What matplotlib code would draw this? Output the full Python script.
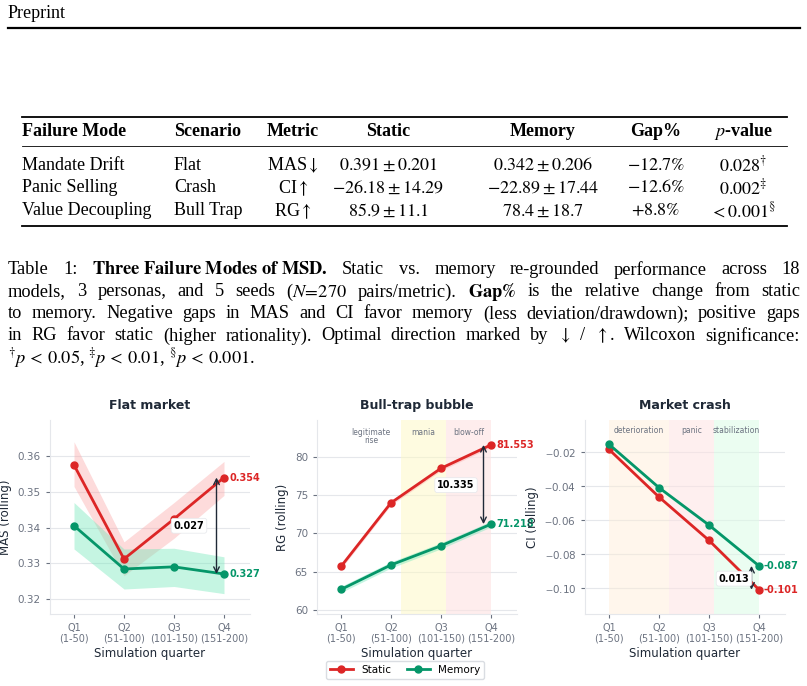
import matplotlib
matplotlib.use("Agg")
import matplotlib.pyplot as plt
import numpy as np

plt.rcParams['mathtext.fontset'] = 'stix'
SERIF = ['Liberation Serif', 'DejaVu Serif']

quarters = ["Q1\n(1-50)", "Q2\n(51-100)", "Q3\n(101-150)", "Q4\n(151-200)"]

flat_static = [0.3575, 0.3312, 0.3424, 0.354]
flat_static_lo = [0.3515, 0.3265, 0.3370, 0.3490]
flat_static_hi = [0.3640, 0.3360, 0.3470, 0.3585]
flat_memory = [0.3405, 0.3284, 0.3290, 0.327]
flat_memory_lo = [0.3340, 0.3228, 0.3235, 0.3215]
flat_memory_hi = [0.3470, 0.3340, 0.3342, 0.3318]

bull_static = [65.7, 74.0, 78.5, 81.553]
bull_static_lo = [65.4, 73.7, 78.2, 81.25]
bull_static_hi = [66.0, 74.3, 78.8, 81.85]
bull_memory = [62.7, 65.9, 68.4, 71.218]
bull_memory_lo = [62.3, 65.5, 68.0, 70.85]
bull_memory_hi = [63.1, 66.3, 68.8, 71.6]

crash_static = [-0.0185, -0.0465, -0.0720, -0.101]
crash_static_lo = [-0.0193, -0.0473, -0.0728, -0.1018]
crash_static_hi = [-0.0177, -0.0457, -0.0712, -0.1002]
crash_memory = [-0.0155, -0.0410, -0.0630, -0.087]
crash_memory_lo = [-0.0163, -0.0420, -0.0640, -0.0880]
crash_memory_hi = [-0.0147, -0.0400, -0.0620, -0.0860]

table_header = ["Failure Mode", "Scenario", "Metric", "Static", "Memory", "Gap%", "$p$-value"]
table_rows = [
    ["Mandate Drift", "Flat", r"MAS$\downarrow$", r"$0.391 \pm 0.201$", r"$0.342 \pm 0.206$", r"$-12.7\%$", r"$0.028^{\dagger}$"],
    ["Panic Selling", "Crash", r"CI$\uparrow$", r"$-26.18 \pm 14.29$", r"$-22.89 \pm 17.44$", r"$-12.6\%$", r"$0.002^{\ddagger}$"],
    ["Value Decoupling", "Bull Trap", r"RG$\uparrow$", r"$85.9 \pm 11.1$", r"$78.4 \pm 18.7$", r"$+8.8\%$", r"$< 0.001^{\S}$"],
]
caption_lines = [
    r"Table 1: $\mathbf{Three\ Failure\ Modes\ of\ MSD.}$ Static vs. memory re-grounded performance across 18",
    r"models, 3 personas, and 5 seeds ($N\!=\!270$ pairs/metric). $\mathbf{Gap\%}$ is the relative change from static",
    r"to memory. Negative gaps in MAS and CI favor memory (less deviation/drawdown); positive gaps",
    r"in RG favor static (higher rationality). Optimal direction marked by $\downarrow$ / $\uparrow$. Wilcoxon significance:",
    r"$^{\dagger}p\,<\,0.05$, $^{\ddagger}p\,<\,0.01$, $^{\S}p\,<\,0.001$.",
]

W, H = 807, 686
fig = plt.figure(figsize=(W/100, H/100), dpi=100)

def fx(x): return x / W
def fy(y): return 1 - y / H

fig.text(fx(8), fy(14), "Preprint", family=SERIF, fontsize=13, va='center', ha='left')
fig.add_artist(plt.Line2D([fx(8), fx(800)], [fy(28), fy(28)], color='black', lw=1.6))

for y, lw in [(117, 1.3), (146, 0.6), (226, 1.3)]:
    fig.add_artist(plt.Line2D([fx(22), fx(787)], [fy(y), fy(y)], color='black', lw=lw))
col_x = [22, 174, 293, 388, 543, 656, 743]
col_ha = ['left', 'left', 'center', 'center', 'center', 'center', 'center']
for j, h in enumerate(table_header):
    fig.text(fx(col_x[j]), fy(131), h, family=SERIF, fontsize=13, fontweight='bold', ha=col_ha[j], va='center')
for i, row in enumerate(table_rows):
    yy = [165, 188, 211][i]
    for j, c in enumerate(row):
        fig.text(fx(col_x[j]), fy(yy), c, family=SERIF, fontsize=13, ha=col_ha[j], va='center')

# justified caption
def tokens(line):
    out, cur, inmath = [], "", False
    for ch in line:
        if ch == '$':
            inmath = not inmath
        if ch == ' ' and not inmath:
            if cur:
                out.append(cur)
            cur = ""
        else:
            cur += ch
    if cur:
        out.append(cur)
    return out

renderer = fig.canvas.get_renderer()
CAP_FS = 13.2
for i, line in enumerate(caption_lines):
    yy = fy(270 + 22 * i)
    words = tokens(line)
    arts = [fig.text(0, yy, w, family=SERIF, fontsize=CAP_FS, ha='left', va='center') for w in words]
    widths = [a.get_window_extent(renderer).width for a in arts]
    space = 3.6
    if i < len(caption_lines) - 1 and len(words) > 1:
        space = (792 - sum(widths)) / (len(words) - 1)
    xpos = 8
    for a, w in zip(arts, widths):
        a.set_x(fx(xpos))
        xpos += w + space

RED = '#dc2626'
GREEN = '#059669'
x = np.arange(4)

def style(ax, ylabel, title):
    ax.set_xlim(-0.48, 3.52)
    ax.set_xticks(x)
    ax.set_xticklabels(quarters, fontsize=7, color='#6b7280', linespacing=1.1)
    ax.tick_params(axis='y', labelsize=7.5, colors='#6b7280', length=3)
    ax.tick_params(axis='x', length=3, colors='#6b7280')
    for s in ['top', 'right']:
        ax.spines[s].set_visible(False)
    for s in ['left', 'bottom']:
        ax.spines[s].set_color('#e5e7eb')
    ax.grid(axis='y', color='#e5e7eb', lw=0.8)
    ax.set_axisbelow(True)
    ax.set_ylabel(ylabel, fontsize=8.5, color='#1f2937')
    ax.set_xlabel("Simulation quarter", fontsize=8.5, color='#1f2937', labelpad=2)
    ax.set_title(title, fontsize=9, fontweight='bold', color='#1f2937', pad=8)

def plot_series(ax, s, slo, shi, m, mlo, mhi, fmt):
    ax.fill_between(x, slo, shi, color='#fca5a5', alpha=0.4, lw=0)
    ax.fill_between(x, mlo, mhi, color='#6ee7b7', alpha=0.4, lw=0)
    ax.plot(x, s, color=RED, lw=2, marker='o', ms=5, label='Static')
    ax.plot(x, m, color=GREEN, lw=2, marker='o', ms=5, label='Memory')
    ax.text(3.1, s[-1], fmt.format(s[-1]), color=RED, fontsize=7, fontweight='bold', va='center')
    ax.text(3.1, m[-1], fmt.format(m[-1]), color=GREEN, fontsize=7, fontweight='bold', va='center')

def gap(ax, xa, lo, hi, xt, yt, txt):
    ax.annotate('', xy=(xa, hi), xytext=(xa, lo),
                arrowprops=dict(arrowstyle='<->', color='#1f2937', lw=1, shrinkA=0, shrinkB=0))
    ax.text(xt, yt, txt, fontsize=7, fontweight='bold', ha='center', va='center',
            bbox=dict(boxstyle='round,pad=0.25', fc='white', ec='#e5e7eb', lw=0.5))

ax1 = fig.add_axes([fx(50), fy(614), fx(200), (614 - 420) / H])
plot_series(ax1, flat_static, flat_static_lo, flat_static_hi, flat_memory, flat_memory_lo, flat_memory_hi, "{:.3f}")
ax1.set_ylim(0.3158, 0.3701)
ax1.set_yticks([0.32, 0.33, 0.34, 0.35, 0.36])
style(ax1, "MAS (rolling)", "Flat market")
gap(ax1, 2.85, flat_memory[-1], flat_static[-1], 2.3, 0.3405, "0.027")

ax2 = fig.add_axes([fx(317), fy(614), fx(200), (614 - 420) / H])
ax2.axvspan(1.2, 2.1, color='#fef9c3', alpha=0.5, lw=0)
ax2.axvspan(2.1, 3.0, color='#fee2e2', alpha=0.6, lw=0)
plot_series(ax2, bull_static, bull_static_lo, bull_static_hi, bull_memory, bull_memory_lo, bull_memory_hi, "{:.3f}")
ax2.set_ylim(59.5, 84.8)
ax2.set_yticks([60, 65, 70, 75, 80])
style(ax2, "RG (rolling)", "Bull-trap bubble")
for xc, t in [(0.6, "legitimate\nrise"), (1.65, "mania"), (2.55, "blow-off")]:
    ax2.text(xc, 83.8, t, fontsize=5.5, color='#6b7280', ha='center', va='top', linespacing=0.9)
gap(ax2, 2.85, bull_memory[-1], bull_static[-1], 2.3, 76.3, "10.335")

ax3 = fig.add_axes([fx(585), fy(614), fx(200), (614 - 420) / H])
ax3.axvspan(0, 1.2, color='#ffedd5', alpha=0.45, lw=0)
ax3.axvspan(1.2, 2.1, color='#fee2e2', alpha=0.55, lw=0)
ax3.axvspan(2.1, 3.0, color='#dcfce7', alpha=0.55, lw=0)
plot_series(ax3, crash_static, crash_static_lo, crash_static_hi, crash_memory, crash_memory_lo, crash_memory_hi, "{:.3f}")
ax3.set_ylim(-0.1153, -0.0012)
ax3.set_yticks([-0.10, -0.08, -0.06, -0.04, -0.02])
ax3.set_yticklabels([r"$-$0.10", r"$-$0.08", r"$-$0.06", r"$-$0.04", r"$-$0.02"])
style(ax3, "CI (rolling)", "Market crash")
for xc, t in [(0.6, "deterioration"), (1.65, "panic"), (2.55, "stabilization")]:
    ax3.text(xc, -0.0075, t, fontsize=5.5, color='#6b7280', ha='center', va='center')
gap(ax3, 2.85, crash_static[-1], crash_memory[-1], 2.5, -0.0945, "0.013")

h, l = ax1.get_legend_handles_labels()
fig.legend(h, l, loc='center', bbox_to_anchor=(fx(405), fy(670)), ncol=2, fontsize=7.5,
           frameon=True, edgecolor='#d1d5db', handlelength=2.2, columnspacing=1.5)

fig.savefig("out.png", dpi=100)
